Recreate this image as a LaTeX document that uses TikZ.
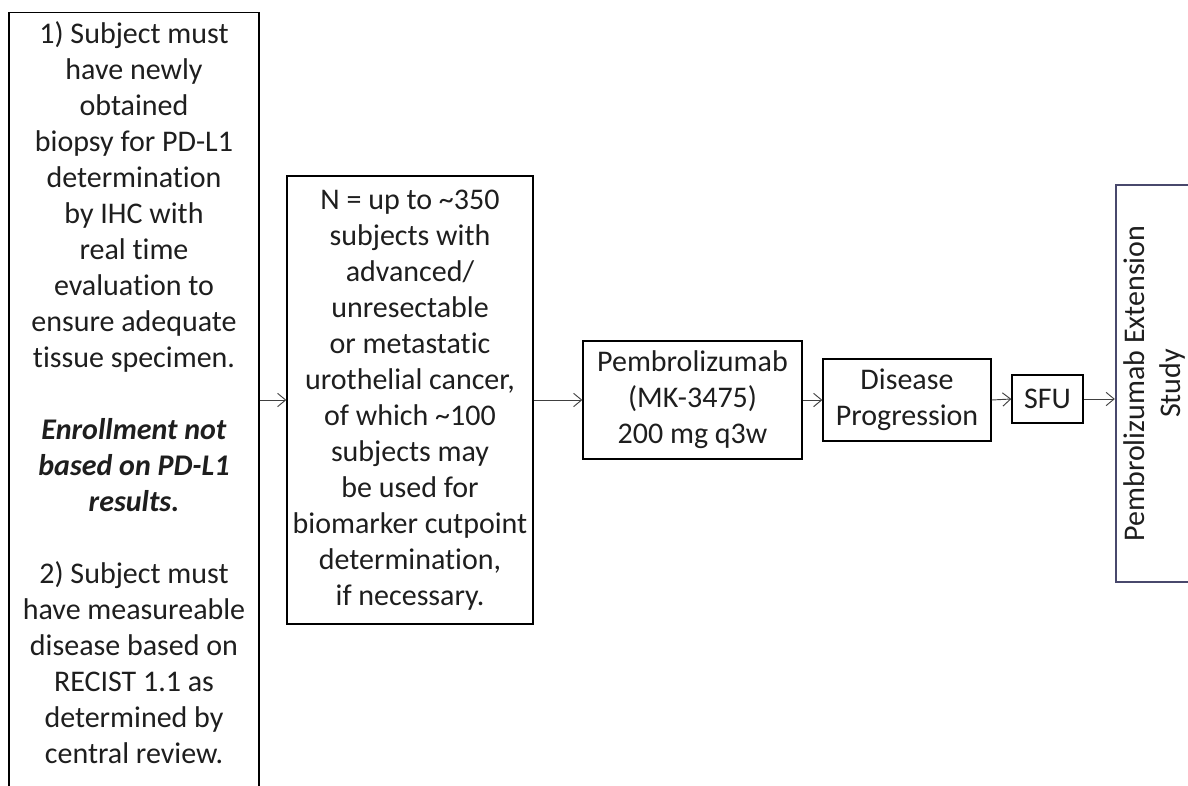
\documentclass[tikz,border=0pt]{standalone}
\usepackage{fontspec}
\setmainfont{Carlito}[Ligatures=NoCommon]
\usepackage{tikz}
\usetikzlibrary{arrows.meta}
\definecolor{extline}{RGB}{72,72,108}
\definecolor{txt}{RGB}{30,30,30}
\newcommand{\boxfont}{\fontsize{22.5pt}{27pt}\selectfont}

\begin{document}
\begin{tikzpicture}[x=0.75pt, y=-0.75pt,
    box/.style={draw, line width=1pt, align=center, font=\boxfont, text=txt, inner sep=0pt},
    flow/.style={-{Straight Barb[length=6pt,width=10pt]}, line width=0.7pt, draw=black!75}]
\useasboundingbox (0,0) rectangle (1188,785);
\clip (0,0) rectangle (1188,785);
% eligibility
\node[box, anchor=north, minimum width=187.5pt, inner ysep=7pt] (elig) at (134,12)
    {1) Subject must\\ have newly\\ obtained\\ biopsy for PD-L1\\ determination\\ by IHC with\\ real time\\ evaluation to\\ ensure adequate\\ tissue specimen.\\[27pt]
     \textbf{\textit{Enrollment not}}\\ \textbf{\textit{based on PD-L1}}\\ \textbf{\textit{results.}}\\[27pt]
     2) Subject must\\ have measureable\\ disease based on\\ RECIST 1.1 as\\ determined by\\ central review.\\ \mbox{}};
\node[box, minimum width=184.5pt, minimum height=336pt] (cohort) at (410,400)
    {N = up to \textasciitilde350\\ subjects with\\ advanced/\\ unresectable\\ or metastatic\\ urothelial cancer,\\ of which \textasciitilde100\\ subjects may\\ be used for\\ biomarker cutpoint\\ determination,\\ if necessary.};
\node[box, minimum width=164.25pt, minimum height=88.5pt] (pembro) at (692.5,400)
    {Pembrolizumab\\ (MK-3475)\\ 200 mg q3w};
\node[box, minimum width=126pt, minimum height=61.5pt] (prog) at (907,400)
    {Disease\\ Progression};
\node[box, minimum width=53.25pt, minimum height=36pt] (sfu) at (1047.5,399) {SFU};
\node[box, draw=extline, line width=1.8pt, rotate=90, minimum width=297.75pt, minimum height=57pt] (ext) at (1154,383.5)
    {Pembrolizumab Extension\\ Study};
% arrows
\draw[flow] (elig.east |- cohort.west) -- (cohort.west);
\draw[flow] (cohort.east) -- (pembro.west);
\draw[flow] (pembro.east) -- (prog.west);
\draw[flow] (prog.east) -- (sfu.west);
\draw[flow] (sfu.east) -- (sfu.east -| ext.north);
\end{tikzpicture}
\end{document}
